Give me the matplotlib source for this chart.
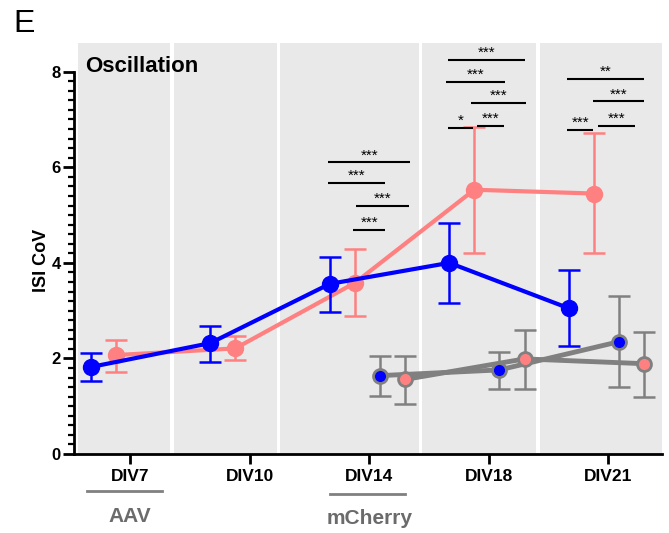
import matplotlib
matplotlib.use("Agg")
import matplotlib.pyplot as plt
from matplotlib.transforms import blended_transform_factory

plt.rcParams['font.family'] = ['Liberation Sans', 'DejaVu Sans']

# ---- data ----
days = ["DIV7", "DIV10", "DIV14", "DIV18", "DIV21"]

blue_mean = [1.82, 2.32, 3.56, 4.00, 3.05]
blue_hi   = [2.12, 2.68, 4.12, 4.83, 3.85]
blue_lo   = [1.52, 1.93, 2.98, 3.15, 2.25]

pink_mean = [2.07, 2.21, 3.58, 5.53, 5.45]
pink_hi   = [2.38, 2.47, 4.28, 6.85, 6.72]
pink_lo   = [1.72, 1.97, 2.88, 4.20, 4.20]

ctrl_idx = [2, 3, 4]
gblue_mean = [1.64, 1.76, 2.35]
gblue_hi   = [2.05, 2.13, 3.30]
gblue_lo   = [1.22, 1.37, 1.40]

gpink_mean = [1.56, 1.99, 1.89]
gpink_hi   = [2.05, 2.60, 2.56]
gpink_lo   = [1.05, 1.37, 1.19]

# significance bars (x start, x end, y, label)
br_x0 = [1.657, 1.657, 1.891, 1.866, 2.661, 2.644, 2.854, 2.661, 2.904, 3.657, 3.874, 3.657, 3.916]
br_x1 = [2.343, 2.134, 2.335, 2.134, 3.305, 3.138, 3.314, 2.870, 3.130, 4.301, 4.301, 3.874, 4.226]
br_y  = [6.10, 5.68, 5.20, 4.69, 8.24, 7.79, 7.34, 6.83, 6.87, 7.85, 7.38, 6.79, 6.86]
br_lab = ["***", "***", "***", "***", "***", "***", "***", "*", "***", "**", "***", "***", "***"]

# ---- style ----
BLUE = "#0000ff"
PINK = "#ff8080"
GRAY = "#808080"
PANEL = "#e9e9e9"
offsets = [-0.33, -0.12, 0.09, 0.30]

fig = plt.figure(figsize=(6.69, 5.33), dpi=100)
ax = fig.add_axes([0.1106, 0.1482, 0.9895 - 0.1106, 0.9193 - 0.1482])

ax.set_xlim(-0.47, 4.45)
ax.set_ylim(0, 8.6)

panels = [(-0.44, 0.337), (0.367, 1.225), (1.255, 2.413), (2.443, 3.393), (3.427, 4.45)]
for a, b in panels:
    ax.axvspan(a, b, ymin=0, ymax=1, color=PANEL, lw=0, zorder=0)

def yerr(m, lo, hi):
    return [[mm - l for mm, l in zip(m, lo)], [h - mm for mm, h in zip(m, hi)]]

xs = list(range(len(days)))

# pink main
xp = [x + offsets[1] for x in xs]
ax.errorbar(xp, pink_mean, yerr=yerr(pink_mean, pink_lo, pink_hi), fmt='none',
            ecolor=PINK, elinewidth=1.8, capsize=8, capthick=1.8, zorder=2)
ax.plot(xp, pink_mean, '-o', color=PINK, lw=3, ms=11.5, zorder=3)

# blue main
xb = [x + offsets[0] for x in xs]
ax.errorbar(xb, blue_mean, yerr=yerr(blue_mean, blue_lo, blue_hi), fmt='none',
            ecolor=BLUE, elinewidth=1.8, capsize=8, capthick=1.8, zorder=4)
ax.plot(xb, blue_mean, '-o', color=BLUE, lw=3, ms=11.5, zorder=5)

# control (gray) series
xgb = [xs[i] + offsets[2] for i in ctrl_idx]
xgp = [xs[i] + offsets[3] for i in ctrl_idx]
ax.errorbar(xgb, gblue_mean, yerr=yerr(gblue_mean, gblue_lo, gblue_hi), fmt='none',
            ecolor=GRAY, elinewidth=1.8, capsize=8, capthick=1.8, zorder=6)
ax.errorbar(xgp, gpink_mean, yerr=yerr(gpink_mean, gpink_lo, gpink_hi), fmt='none',
            ecolor=GRAY, elinewidth=1.8, capsize=8, capthick=1.8, zorder=6)
ax.plot(xgb, gblue_mean, '-', color=GRAY, lw=3.5, zorder=7)
ax.plot(xgp, gpink_mean, '-', color=GRAY, lw=3.5, zorder=7)
ax.plot(xgb, gblue_mean, 'o', mfc=BLUE, mec=GRAY, mew=2, ms=10, zorder=8)
ax.plot(xgp, gpink_mean, 'o', mfc=PINK, mec=GRAY, mew=2, ms=10, zorder=8)

# significance bars
for x0, x1, y, lab in zip(br_x0, br_x1, br_y, br_lab):
    ax.plot([x0, x1], [y, y], color='black', lw=1.5, solid_capstyle='butt', zorder=9)
    ax.text((x0 + x1) / 2, y + 0.0, lab, ha='center', va='bottom', fontsize=11,
            zorder=9)

# axes styling
for s in ['top', 'right']:
    ax.spines[s].set_visible(False)
ax.spines['left'].set_bounds(0, 8)
ax.spines['left'].set_linewidth(2)
ax.spines['bottom'].set_linewidth(2)
ax.set_yticks([0, 2, 4, 6, 8])
ax.set_yticks([i * 0.2 for i in range(41)], minor=True)
ax.tick_params(axis='y', which='major', length=8, width=2, labelsize=12, pad=1.5)
ax.tick_params(axis='y', which='minor', length=4.3, width=1.6)
ax.set_xticks(xs)
ax.set_xticklabels(days)
ax.tick_params(axis='x', which='major', length=7, width=2, labelsize=12.5, pad=4)
for lab in ax.get_xticklabels() + ax.get_yticklabels():
    lab.set_fontweight('bold')

ax.set_ylabel("ISI CoV", fontsize=13, fontweight='bold')
ax.yaxis.set_label_coords(-0.04, 0.472)

ax.text(0.019, 0.929, "Oscillation", transform=ax.transAxes, fontsize=16,
        fontweight='bold', ha='left', va='baseline')

fig.text(0.020, 0.94, "E", fontsize=23, ha='left', va='baseline')

# AAV / mCherry annotations below axis
tr = blended_transform_factory(ax.transData, ax.transAxes)
ax.plot([-0.36, 0.27], [-0.09, -0.09], color=GRAY, lw=2, transform=tr, clip_on=False)
ax.text(0, -0.165, "AAV", transform=tr, ha='center', va='baseline', fontsize=15,
        fontweight='bold', color='#6b6b6b')
ax.plot([1.67, 2.30], [-0.097, -0.097], color=GRAY, lw=2, transform=tr, clip_on=False)
ax.text(2.0, -0.17, "mCherry", transform=tr, ha='center', va='baseline', fontsize=15,
        fontweight='bold', color='#6b6b6b')

fig.savefig("out.png", dpi=100)
